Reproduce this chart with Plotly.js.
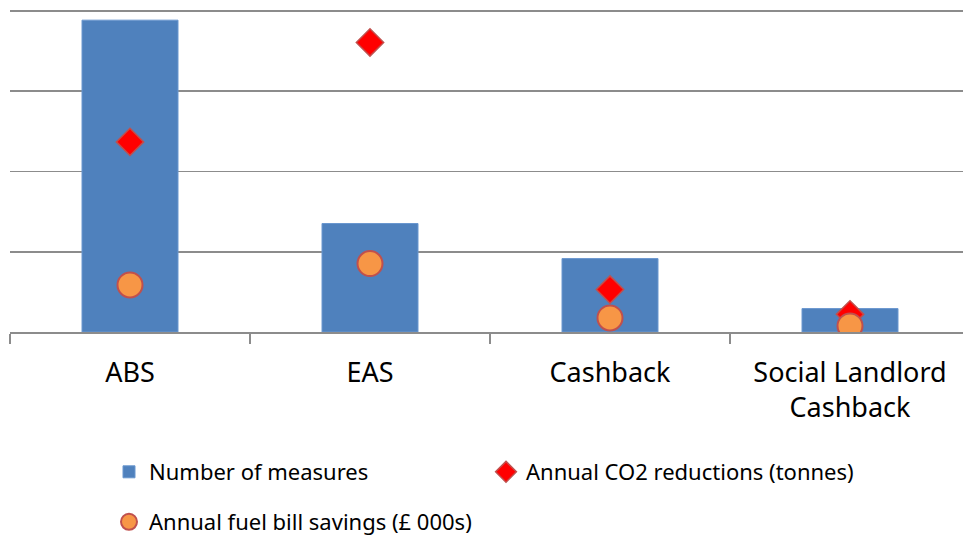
<!DOCTYPE html>
<html>
<head>
<meta charset="utf-8">
<script src="https://cdn.plot.ly/plotly-3.0.1.min.js"></script>
<style>html,body{margin:0;padding:0;background:#fff;}#chart{width:963px;height:535px;}</style>
</head>
<body>
<div id="chart"></div>
<script>
const categories = ["ABS", "EAS", "Cashback", "Social Landlord<br>Cashback"];
const measures = [3.886, 1.352, 0.915, 0.292];
const co2 = [2.369, 3.608, 0.529, 0.22];
const savings = [0.586, 0.853, 0.175, 0.075];
const seriesNames = ["Number of measures", "Annual CO2 reductions (tonnes)", "Annual fuel bill savings (£ 000s)"];

const FONT = "Noto Sans, sans-serif";
const W = 963, ML = 10, PLOT_BOTTOM = 332, PLOT_TOP = 7;
const YTOP = 4 + 4 / 80.25;
const plotW = W - ML, plotH = PLOT_BOTTOM - PLOT_TOP;
const px = v => (v - ML) / plotW;
const py = v => (PLOT_BOTTOM - v) / plotH;

const traces = [
  {type: "bar", x: categories, y: measures, name: seriesNames[0], width: 0.4,
   marker: {color: "#4F81BD", line: {color: "#6A97CF", width: 1}}, legend: "legend"},
  {type: "scatter", mode: "markers", x: categories, y: co2, name: seriesNames[1],
   marker: {symbol: "diamond", size: 21, color: "#FF0000", line: {color: "#C0504D", width: 1.5}}, legend: "legend2"},
  {type: "scatter", mode: "markers", x: categories, y: savings, name: seriesNames[2],
   marker: {symbol: "circle", size: 25, color: "#F79646", line: {color: "#C0504D", width: 2}}, legend: "legend3"}
];

const legendBase = {orientation: "h", xanchor: "left", yanchor: "middle", font: {family: FONT, size: 22, color: "#000"}, bgcolor: "rgba(0,0,0,0)", itemclick: false};

const layout = {
  width: W, height: 535,
  margin: {l: ML, r: 0, t: PLOT_TOP, b: 535 - PLOT_BOTTOM, autoexpand: false},
  paper_bgcolor: "#fff", plot_bgcolor: "#fff",
  showlegend: true,
  xaxis: {type: "category", range: [-0.5, 3.5 - 7/240], tickson: "boundaries", ticks: "outside", ticklen: 10, tickwidth: 1.5, tickcolor: "#8C8C8C",
          showline: true, linecolor: "#8C8C8C", linewidth: 1.8, showgrid: false, zeroline: false, automargin: false,
          tickfont: {family: FONT, size: 27, color: "#000"}, ticklabelstandoff: 16},
  yaxis: {range: [0, YTOP], tickvals: [1, 2, 3, 4], showticklabels: false, showgrid: true, gridcolor: "#8C8C8C", gridwidth: 1.8, zeroline: false, showline: false, fixedrange: true, automargin: false},
  legend: Object.assign({}, legendBase, {x: px(109), y: py(472)}),
  legend2: Object.assign({}, legendBase, {x: px(486), y: py(472)}),
  legend3: Object.assign({}, legendBase, {x: px(109), y: py(522)})
};

Plotly.newPlot("chart", traces, layout, {displayModeBar: false, staticPlot: true});
</script>
</body>
</html>
